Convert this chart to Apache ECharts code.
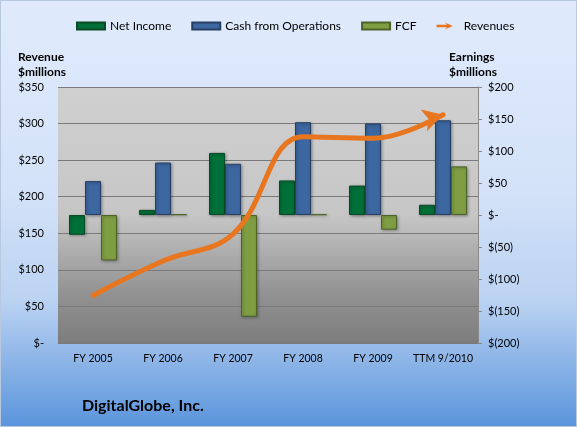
<!DOCTYPE html>
<html>
<head>
<meta charset="utf-8">
<script src="https://cdn.jsdelivr.net/npm/echarts@6/dist/echarts.min.js"></script>
<style>
  html, body { margin: 0; padding: 0; }
  #chart {
    width: 577px; height: 427px; box-sizing: border-box;
    border: 1px solid #b8c8de;
    background: linear-gradient(to bottom, #e0eafc 0%, #d3e2f8 45%, #bcd3f2 70%, #5b95dc 100%);
  }
</style>
</head>
<body>
<div id="chart"></div>
<script>
// categories and values ($ millions)
var years = ['FY 2005', 'FY 2006', 'FY 2007', 'FY 2008', 'FY 2009', 'TTM 9/2010'];
var netIncome = [-31, 8, 97, 54, 46, 16];
var cashOps = [53, 82, 80, 145, 143, 148];
var fcf = [-71, 1, -159, 1, -23, 76];
var revenues = [65, 112, 149, 282, 280, 312];

var leftTicks = { min: 0, max: 350, step: 50 };
var rightTicks = { min: -200, max: 200, step: 50 };

var font = 'Lato, "Liberation Sans", sans-serif';

function money(v) {
    if (v === 0) return '$-';
    if (v < 0) return '$(' + (-v) + ')';
    return '$' + v;
}

function bar(name, data, color, border) {
    return {
        name: name,
        type: 'bar',
        yAxisIndex: 1,
        barWidth: 16,
        barGap: '0%',
        data: data,
        itemStyle: {
            color: color,
            borderColor: border,
            borderWidth: 1,
            shadowColor: 'rgba(0,0,0,0.35)',
            shadowBlur: 3,
            shadowOffsetX: 1,
            shadowOffsetY: 1
        }
    };
}

// arrow head on the last revenue point
var revData = revenues.map(function (v, i) {
    if (i === revenues.length - 1) {
        return { value: v, symbol: 'arrow', symbolSize: [17, 20], symbolRotate: -74 };
    }
    return v;
});

var myChart = echarts.init(document.getElementById('chart'));
var option = {
    backgroundColor: 'transparent',
    textStyle: { fontFamily: font },
    animation: false,
    title: [
        { text: 'Revenue\n$millions', left: 12, top: 44,
          textStyle: { fontSize: 12, fontWeight: 'bold', color: '#000', lineHeight: 15, fontFamily: font } },
        { text: 'Earnings\n$millions', left: 443, top: 44,
          textStyle: { fontSize: 12, fontWeight: 'bold', color: '#000', lineHeight: 15, fontFamily: font } },
        { text: 'DigitalGlobe, Inc.', left: 76, top: 392,
          textStyle: { fontSize: 16, fontWeight: 'bold', color: '#000', fontFamily: font } }
    ],
    legend: {
        top: 14,
        left: 70,
        itemWidth: 28,
        itemHeight: 7,
        itemGap: 20,
        textStyle: { fontSize: 12, color: '#000', fontFamily: font },
        data: [
            { name: 'Net Income', icon: 'rect' },
            { name: 'Cash from Operations', icon: 'rect' },
            { name: 'FCF', icon: 'rect' },
            { name: 'Revenues', icon: 'path://M0,4 L18,4 L14,0 L28,6 L14,12 L18,8 L0,8 Z' }
        ]
    },
    grid: {
        left: 57, right: 98, top: 86, bottom: 83,
        show: true,
        borderWidth: 0,
        backgroundColor: new echarts.graphic.LinearGradient(0, 0, 0, 1, [
            { offset: 0, color: '#d0d0d0' },
            { offset: 0.5, color: '#c6c6c6' },
            { offset: 0.8, color: '#939393' },
            { offset: 1, color: '#7d7d7d' }
        ])
    },
    xAxis: {
        type: 'category',
        data: years,
        axisLine: { show: false },
        axisTick: { show: false },
        axisLabel: { interval: 0, fontSize: 10.5, color: '#000', margin: 10, fontFamily: font }
    },
    yAxis: [
        {
            type: 'value',
            min: leftTicks.min, max: leftTicks.max, interval: leftTicks.step,
            axisLine: { show: false },
            axisTick: { show: false },
            axisLabel: { formatter: money, fontSize: 11, color: '#000', margin: 14, fontFamily: font },
            splitLine: { show: true, lineStyle: { color: '#7a7a7a', width: 1 } }
        },
        {
            type: 'value',
            min: rightTicks.min, max: rightTicks.max, interval: rightTicks.step,
            axisLine: { show: true, lineStyle: { color: '#8a8a8a' } },
            axisTick: { show: true, length: 4, lineStyle: { color: '#8a8a8a' } },
            axisLabel: { formatter: money, fontSize: 11, color: '#000', margin: 10, align: 'left', fontFamily: font },
            splitLine: { show: false }
        }
    ],
    series: [
        bar('Net Income', netIncome, '#007038', '#0b4a26'),
        bar('Cash from Operations', cashOps, '#3c67a0', '#263f63'),
        bar('FCF', fcf, '#7f9e43', '#4d6328'),
        {
            name: 'Revenues',
            type: 'line',
            yAxisIndex: 0,
            smooth: 0.4,
            symbol: 'none',
            data: revData,
            lineStyle: { color: '#e8761f', width: 5, cap: 'round' },
            itemStyle: { color: '#e8761f' },
            z: 5
        }
    ]
};
myChart.setOption(option);
</script>
</body>
</html>
